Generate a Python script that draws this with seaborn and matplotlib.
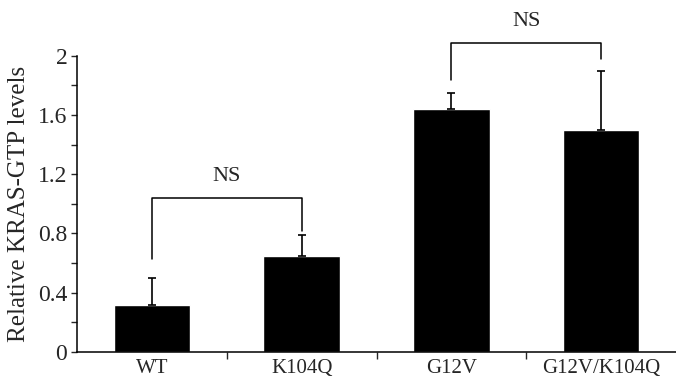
import pandas as pd
import seaborn as sns
import matplotlib.pyplot as plt
from matplotlib.ticker import FixedLocator

# Values
groups = ['WT', 'K104Q', 'G12V', 'G12V/K104Q']
levels = [0.32, 0.65, 1.64, 1.50]
errors = [0.18, 0.14, 0.11, 0.40]

y_ticks = [0, 0.4, 0.8, 1.2, 1.6, 2]
y_tick_labels = ['0', '0.4', '0.8', '1.2', '1.6', '2']
y_minor = [0.2, 0.6, 1.0, 1.4, 1.8]

# Significance brackets: (left group, right group, left leg bottom, right leg bottom, bar height, label)
brackets = [
    (0, 1, 0.63, 0.82, 1.04, 'NS'),
    (2, 3, 1.84, 1.98, 2.09, 'NS'),
]

df = pd.DataFrame({'group': groups, 'level': levels, 'err': errors})

sns.set_theme(style='ticks')
plt.rcParams['font.family'] = ['Liberation Serif', 'DejaVu Serif']

fig = plt.figure(figsize=(6.76, 3.8), dpi=100)
ax = fig.add_axes([0.114, 0.074, 0.886, 0.779])

sns.barplot(data=df, x='group', y='level', color='black', width=0.51,
            saturation=1, errorbar=None, ax=ax)

# Upper-only error bars, as in the original figure
ax.errorbar(range(len(groups)), df['level'],
            yerr=[[0] * len(groups), df['err']],
            fmt='none', ecolor='black', elinewidth=1.2, capsize=3, capthick=1.2)

for left, right, yl, yr, top, label in brackets:
    ax.plot([left, left, right, right], [yl, top, top, yr],
            color='black', lw=1.1, clip_on=False)
    ax.text((left + right) / 2, top + 0.08, label, ha='center', va='bottom',
            fontsize=16)

ax.set_xlim(-0.5, len(groups) - 0.5)
ax.set_ylim(0, 2)
ax.set_yticks(y_ticks)
ax.set_yticklabels(y_tick_labels)
ax.yaxis.set_minor_locator(FixedLocator(y_minor))
ax.xaxis.set_minor_locator(FixedLocator([0.5, 1.5, 2.5]))
ax.tick_params(axis='x', which='major', length=0, labelsize=15, pad=5)
ax.tick_params(axis='x', which='minor', length=5, width=1)
ax.tick_params(axis='y', which='both', length=4, width=1, labelsize=17, pad=3)

ax.set_xlabel('')
ax.set_ylabel('Relative KRAS-GTP levels', fontsize=18, labelpad=6)
sns.despine(ax=ax)
for side in ['left', 'bottom']:
    ax.spines[side].set_linewidth(1.1)
    ax.spines[side].set_color('black')

fig.savefig('out.png', dpi=100)
